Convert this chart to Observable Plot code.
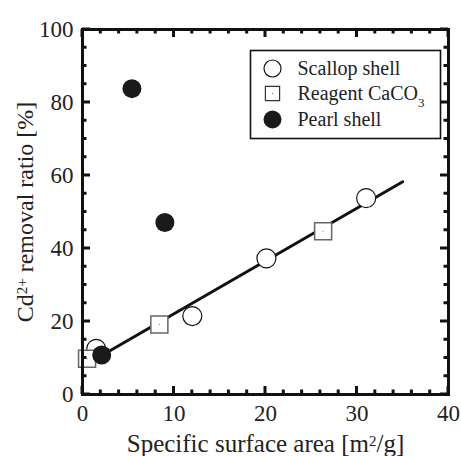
<!DOCTYPE html>
<html><head><meta charset="utf-8">
<script src="https://cdn.jsdelivr.net/npm/d3@7"></script>
<script src="https://cdn.jsdelivr.net/npm/@observablehq/plot@0.6"></script>
<style>body{margin:0;background:#fff} #chart{width:461px;height:456px}</style>
</head><body><div id="chart"></div>
<script>
// ---- data ----
const scallopX = [1.5, 12.0, 20.1, 31.0];
const scallopY = [12.5, 21.5, 37.3, 53.8];
const reagentX = [0.5, 8.4, 26.3];
const reagentY = [9.8, 19.2, 44.7];
const pearlX = [2.1, 5.4, 9.0];
const pearlY = [10.8, 83.8, 47.1];
const fitX = [2.1, 35.0];
const fitY = [10.7, 58.3];
const xTicks = [0, 10, 20, 30, 40];
const yTicks = [0, 20, 40, 60, 80, 100];
const xAllTicks = d3.range(0, 41, 2);
const yAllTicks = d3.range(0, 101, 5);
const legendLabels = ["Scallop shell", "Reagent CaCO3", "Pearl shell"];
const xLabel = "Specific surface area [m2/g]";
const yLabel = "Cd2+ removal ratio [%]";

const zip = (xs, ys) => xs.map((x, i) => ({x, y: ys[i]}));
const scallop = zip(scallopX, scallopY);
const reagent = zip(reagentX, reagentY);
const pearl = zip(pearlX, pearlY);
const fit = zip(fitX, fitY);

// ---- layout ----
const W = 461, H = 456, mL = 82, mR = 13, mT = 29, mB = 62;
const xDom = [0, 40], yDom = [0, 100];
const pxX = (W - mL - mR) / (xDom[1] - xDom[0]);   // pixels per x unit
const pxY = (H - mT - mB) / (yDom[1] - yDom[0]);   // pixels per y unit
const tickW = 3, majLen = 8, minLen = 4.5;
const font = '"Liberation Serif", "Times New Roman", serif';
const legendDX = 190, legendTextDX = 215, legendDY = [39, 64, 90];

// inward ticks drawn as thin filled rects through the x/y scales
const xLen = v => (v % 10 === 0 ? majLen : minLen) / pxY;
const yLen = v => (v % 20 === 0 ? majLen : minLen) / pxX;
const hx = tickW / 2 / pxX, hy = tickW / 2 / pxY;
const tickRects = [
  Plot.rect(xAllTicks, {x1: v => v - hx, x2: v => v + hx, y1: yDom[0], y2: v => yDom[0] + xLen(v), fill: "#111"}),
  Plot.rect(xAllTicks, {x1: v => v - hx, x2: v => v + hx, y1: v => yDom[1] - xLen(v), y2: yDom[1], fill: "#111"}),
  Plot.rect(yAllTicks, {y1: v => v - hy, y2: v => v + hy, x1: xDom[0], x2: v => xDom[0] + yLen(v), fill: "#111"}),
  Plot.rect(yAllTicks, {y1: v => v - hy, y2: v => v + hy, x1: v => xDom[1] - yLen(v), x2: xDom[1], fill: "#111"})
];

const chart = Plot.plot({
  width: W,
  height: H,
  marginLeft: mL,
  marginRight: mR,
  marginTop: mT,
  marginBottom: mB,
  style: {fontFamily: font, background: "#fff", color: "#222"},
  x: {domain: xDom},
  y: {domain: yDom},
  marks: [
    Plot.axisX({ticks: xTicks, tickSize: 0, tickPadding: 10, fontSize: 23, fontFamily: font, label: null, fill: "#222"}),
    Plot.axisY({ticks: yTicks, tickSize: 0, tickPadding: 9, fontSize: 23, fontFamily: font, label: null, fill: "#222"}),
    Plot.line(fit, {x: "x", y: "y", stroke: "#111", strokeWidth: 3}),
    Plot.dot(scallop, {x: "x", y: "y", r: 9.5, fill: "#fff", stroke: "#111", strokeWidth: 1.2}),
    Plot.dot(reagent, {x: "x", y: "y", r: 9.6, symbol: "square", fill: "#fff", stroke: "#666", strokeWidth: 1.5}),
    Plot.dot(reagent, {x: "x", y: "y", r: 0.6, fill: "#777"}),
    Plot.dot(pearl, {x: "x", y: "y", r: 9.5, fill: "#1a1a1a"}),
    // legend
    Plot.frame({stroke: "#111", strokeWidth: 1.6, fill: "#fff", insetLeft: 168, insetRight: 8, insetTop: 21, insetBottom: 256}),
    Plot.dot([0], {frameAnchor: "top-left", dx: legendDX, dy: legendDY[0], r: 8.5, fill: "#fff", stroke: "#111", strokeWidth: 1.2}),
    Plot.dot([0], {frameAnchor: "top-left", dx: legendDX, dy: legendDY[1], r: 8, symbol: "square", fill: "#fff", stroke: "#333", strokeWidth: 1.2}),
    Plot.dot([0], {frameAnchor: "top-left", dx: legendDX, dy: legendDY[1], r: 0.6, fill: "#555"}),
    Plot.dot([0], {frameAnchor: "top-left", dx: legendDX, dy: legendDY[2], r: 9, fill: "#1a1a1a"}),
    ...legendLabels.map((t, i) => Plot.text([t], {text: d => d, frameAnchor: "top-left", dx: legendTextDX, dy: legendDY[i], textAnchor: "start", lineAnchor: "middle", fontSize: 20, fontFamily: font, fill: "#222"})),
    ...tickRects,
    Plot.frame({stroke: "#111", strokeWidth: 3}),
    // axis titles
    Plot.text([xLabel], {text: d => d, frameAnchor: "bottom", dy: 49, textAnchor: "middle", lineAnchor: "middle", fontSize: 25, fontFamily: font, fill: "#222"}),
    Plot.text([yLabel], {text: d => d, frameAnchor: "left", dx: -57, rotate: -90, textAnchor: "middle", lineAnchor: "middle", fontSize: 24, fontFamily: font, fill: "#222"})
  ]
});

// rich text: sub/superscripts
const NS = "http://www.w3.org/2000/svg";
function rich(t, parts) {
  t.textContent = "";
  parts.forEach(([s, shift, size]) => {
    if (!shift) { t.appendChild(document.createTextNode(s)); return; }
    const sp = document.createElementNS(NS, "tspan");
    sp.setAttribute("baseline-shift", shift);
    sp.setAttribute("font-size", size);
    sp.textContent = s;
    t.appendChild(sp);
  });
}
chart.querySelectorAll("text").forEach(t => {
  t.setAttribute("font-family", font);
  const s = t.textContent;
  if (s === xLabel) rich(t, [["Specific surface area [m"], ["2", "40%", 15], ["/g]"]]);
  else if (s === yLabel) rich(t, [["Cd"], ["2+", "40%", 15], [" removal ratio [%]"]]);
  else if (s === "Reagent CaCO3") rich(t, [["Reagent CaCO"], ["3", "-55%", 13]]);
});

document.getElementById("chart").appendChild(chart);
</script>
</body></html>
